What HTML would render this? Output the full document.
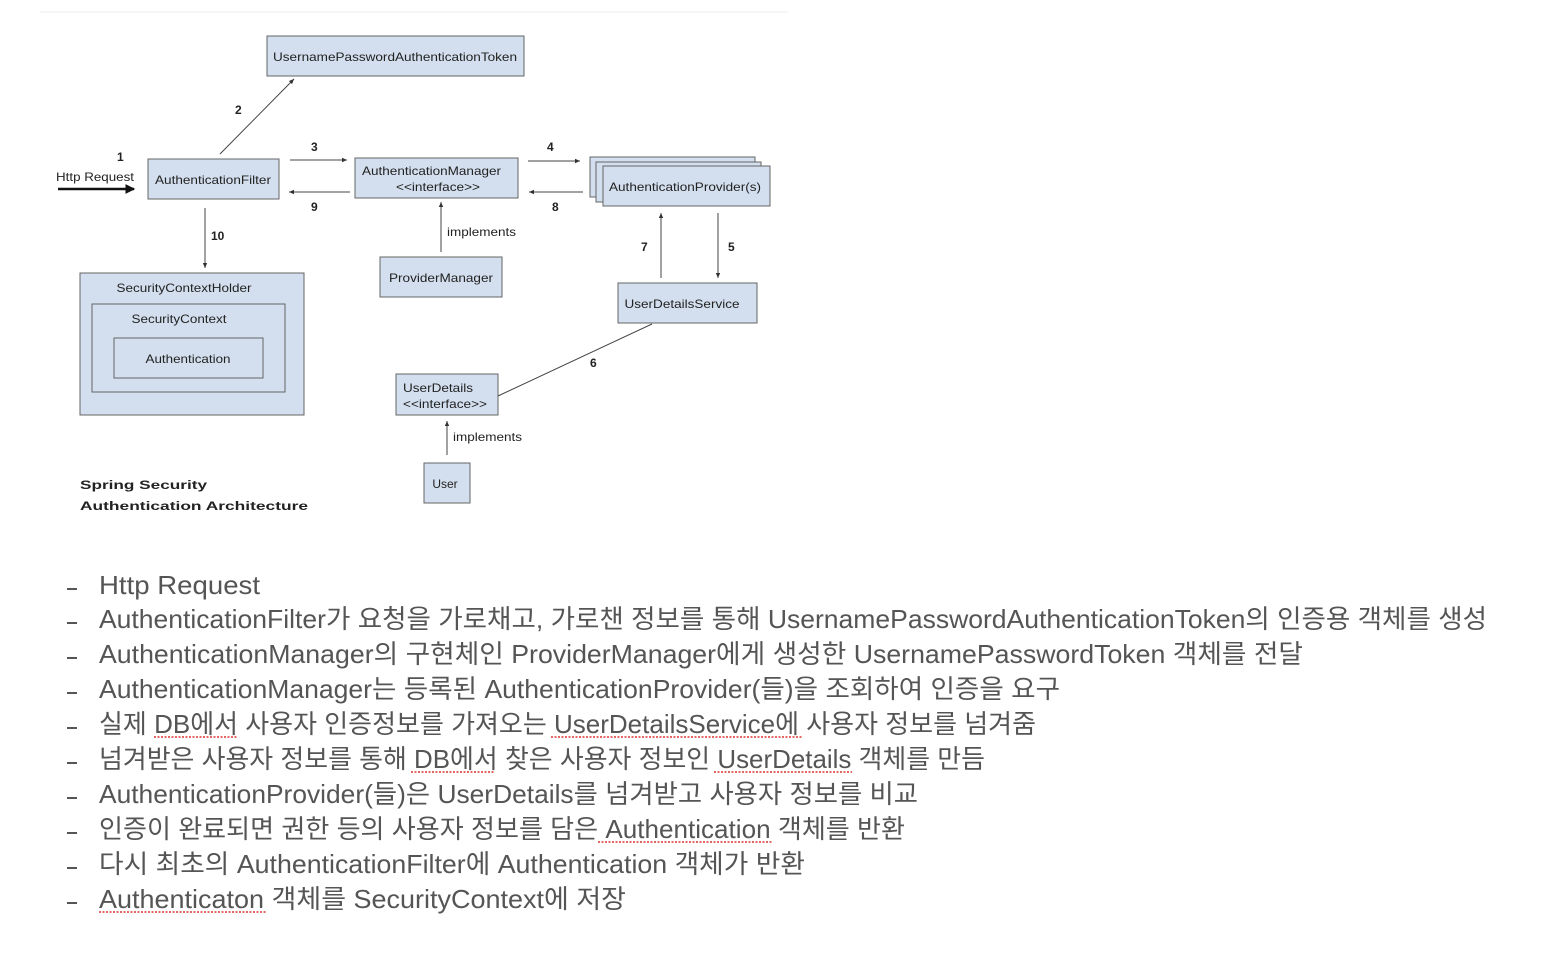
<!DOCTYPE html>
<html><head><meta charset="utf-8"><style>
html,body{margin:0;padding:0;background:#fff;width:1556px;height:960px;overflow:hidden}
svg{display:block}
.d{font-family:"Liberation Sans",sans-serif;font-size:12px;fill:#222}
.b{font-weight:bold}
.l{font-family:"Liberation Sans","Noto Sans CJK KR",sans-serif;font-size:26px;fill:#555}
.bx{fill:#d3dfee;stroke:#666;stroke-width:1}
.ln{stroke:#444;stroke-width:1;fill:none}
.u{stroke:#d33;stroke-width:1.5;stroke-dasharray:2 1.5}
</style></head><body>
<svg width="1556" height="960" viewBox="0 0 1556 960" xmlns="http://www.w3.org/2000/svg">
<defs><marker id="a" markerWidth="6" markerHeight="6" refX="5" refY="3" orient="auto"><path d="M0,0.8 L5,3 L0,5.2z" fill="#333"/></marker>
<marker id="a2" markerWidth="4" markerHeight="4" refX="3.5" refY="2" orient="auto"><path d="M0,0 L4,2 L0,4z" fill="#111"/></marker></defs>
<line x1="40" y1="12" x2="788" y2="12" stroke="#eee"/>
<rect class="bx" x="267" y="36" width="257" height="40"/>
<text class="d" x="395" y="61" text-anchor="middle" textLength="244" lengthAdjust="spacingAndGlyphs">UsernamePasswordAuthenticationToken</text>
<rect class="bx" x="148" y="159" width="131" height="40"/>
<text class="d" x="155" y="184" textLength="116" lengthAdjust="spacingAndGlyphs">AuthenticationFilter</text>
<rect class="bx" x="355" y="158" width="163" height="40"/>
<text class="d" x="362" y="175" textLength="139" lengthAdjust="spacingAndGlyphs">AuthenticationManager</text>
<text class="d" x="396" y="191" textLength="84" lengthAdjust="spacingAndGlyphs">&lt;&lt;interface&gt;&gt;</text>
<rect class="bx" x="590" y="157" width="165" height="40"/>
<rect class="bx" x="596" y="162" width="165" height="40"/>
<rect class="bx" x="603" y="166" width="167" height="40"/>
<text class="d" x="685" y="191" text-anchor="middle" textLength="152" lengthAdjust="spacingAndGlyphs">AuthenticationProvider(s)</text>
<rect class="bx" x="380" y="257" width="122" height="40"/>
<text class="d" x="441" y="282" text-anchor="middle" textLength="104" lengthAdjust="spacingAndGlyphs">ProviderManager</text>
<rect class="bx" x="618" y="283" width="139" height="40"/>
<text class="d" x="682" y="308" text-anchor="middle" textLength="115" lengthAdjust="spacingAndGlyphs">UserDetailsService</text>
<rect class="bx" x="80" y="273" width="224" height="142"/>
<text class="d" x="184" y="292" text-anchor="middle" textLength="135" lengthAdjust="spacingAndGlyphs">SecurityContextHolder</text>
<rect class="bx" x="92" y="304" width="193" height="88"/>
<text class="d" x="179" y="323" text-anchor="middle" textLength="95" lengthAdjust="spacingAndGlyphs">SecurityContext</text>
<rect class="bx" x="114" y="338" width="149" height="40"/>
<text class="d" x="188" y="363" text-anchor="middle" textLength="85" lengthAdjust="spacingAndGlyphs">Authentication</text>
<rect class="bx" x="396" y="374" width="102" height="41"/>
<text class="d" x="403" y="392" textLength="70" lengthAdjust="spacingAndGlyphs">UserDetails</text>
<text class="d" x="403" y="408" textLength="84" lengthAdjust="spacingAndGlyphs">&lt;&lt;interface&gt;&gt;</text>
<rect class="bx" x="424" y="463" width="46" height="40"/>
<text class="d" x="445" y="488" text-anchor="middle">User</text>
<line x1="58" y1="189" x2="134" y2="189" stroke="#111" stroke-width="2.5" marker-end="url(#a2)"/>
<text class="d" x="56" y="181" textLength="78" lengthAdjust="spacingAndGlyphs">Http Request</text>
<text class="d b" x="117" y="161">1</text>
<line class="ln" x1="220" y1="154" x2="294" y2="79" marker-end="url(#a)"/>
<text class="d b" x="235" y="114">2</text>
<line class="ln" x1="290" y1="160" x2="347" y2="160" marker-end="url(#a)"/>
<text class="d b" x="311" y="151">3</text>
<line class="ln" x1="350" y1="192" x2="289" y2="192" marker-end="url(#a)"/>
<text class="d b" x="311" y="211">9</text>
<line class="ln" x1="528" y1="161" x2="580" y2="161" marker-end="url(#a)"/>
<text class="d b" x="547" y="151">4</text>
<line class="ln" x1="583" y1="192" x2="529" y2="192" marker-end="url(#a)"/>
<text class="d b" x="552" y="211">8</text>
<line class="ln" x1="205" y1="208" x2="205" y2="268" marker-end="url(#a)"/>
<text class="d b" x="211" y="240">10</text>
<line class="ln" x1="441" y1="252" x2="441" y2="202" marker-end="url(#a)"/>
<text class="d" x="447" y="236" textLength="69" lengthAdjust="spacingAndGlyphs">implements</text>
<line class="ln" x1="661" y1="278" x2="661" y2="213" marker-end="url(#a)"/>
<text class="d b" x="641" y="251">7</text>
<line class="ln" x1="718" y1="213" x2="718" y2="278" marker-end="url(#a)"/>
<text class="d b" x="728" y="251">5</text>
<line class="ln" x1="652" y1="324" x2="498" y2="396"/>
<text class="d b" x="590" y="367">6</text>
<line class="ln" x1="447" y1="455" x2="447" y2="421" marker-end="url(#a)"/>
<text class="d" x="453" y="441" textLength="69" lengthAdjust="spacingAndGlyphs">implements</text>
<text class="d b" x="80" y="489" font-size="16" textLength="127" lengthAdjust="spacingAndGlyphs">Spring Security</text>
<text class="d b" x="80" y="510" font-size="16" textLength="228" lengthAdjust="spacingAndGlyphs">Authentication Architecture</text>
<g fill="#555"><rect x="67" y="588" width="10" height="2"/><rect x="67" y="622" width="10" height="2"/><rect x="67" y="657" width="10" height="2"/><rect x="67" y="692" width="10" height="2"/><rect x="67" y="727" width="10" height="2"/><rect x="67" y="762" width="10" height="2"/><rect x="67" y="797" width="10" height="2"/><rect x="67" y="832" width="10" height="2"/><rect x="67" y="867" width="10" height="2"/><rect x="67" y="902" width="10" height="2"/></g>
<text class="l" x="99" y="594" textLength="161" lengthAdjust="spacingAndGlyphs">Http Request</text>
<text class="l" x="99" y="628" textLength="1388" lengthAdjust="spacingAndGlyphs">AuthenticationFilter가 요청을 가로채고, 가로챈 정보를 통해 UsernamePasswordAuthenticationToken의 인증용 객체를 생성</text>
<text class="l" x="99" y="663" textLength="1204" lengthAdjust="spacingAndGlyphs">AuthenticationManager의 구현체인 ProviderManager에게 생성한 UsernamePasswordToken 객체를 전달</text>
<text class="l" x="99" y="698" textLength="961" lengthAdjust="spacingAndGlyphs">AuthenticationManager는 등록된 AuthenticationProvider(들)을 조회하여 인증을 요구</text>
<text class="l" x="99" y="733" textLength="937" lengthAdjust="spacingAndGlyphs">실제 DB에서 사용자 인증정보를 가져오는 UserDetailsService에 사용자 정보를 넘겨줌</text>
<text class="l" x="99" y="768" textLength="886" lengthAdjust="spacingAndGlyphs">넘겨받은 사용자 정보를 통해 DB에서 찾은 사용자 정보인 UserDetails 객체를 만듬</text>
<text class="l" x="99" y="803" textLength="819" lengthAdjust="spacingAndGlyphs">AuthenticationProvider(들)은 UserDetails를 넘겨받고 사용자 정보를 비교</text>
<text class="l" x="99" y="838" textLength="806" lengthAdjust="spacingAndGlyphs">인증이 완료되면 권한 등의 사용자 정보를 담은 Authentication 객체를 반환</text>
<text class="l" x="99" y="873" textLength="706" lengthAdjust="spacingAndGlyphs">다시 최초의 AuthenticationFilter에 Authentication 객체가 반환</text>
<text class="l" x="99" y="908" textLength="527" lengthAdjust="spacingAndGlyphs">Authenticaton 객체를 SecurityContext에 저장</text>
<line class="u" x1="154" y1="737" x2="237" y2="737"/>
<line class="u" x1="551" y1="737" x2="802" y2="737"/>
<line class="u" x1="411" y1="772" x2="494" y2="772"/>
<line class="u" x1="714" y1="772" x2="852" y2="772"/>
<line class="u" x1="598" y1="842" x2="772" y2="842"/>
<line class="u" x1="99" y1="912" x2="267" y2="912"/>
</svg>
</body></html>
